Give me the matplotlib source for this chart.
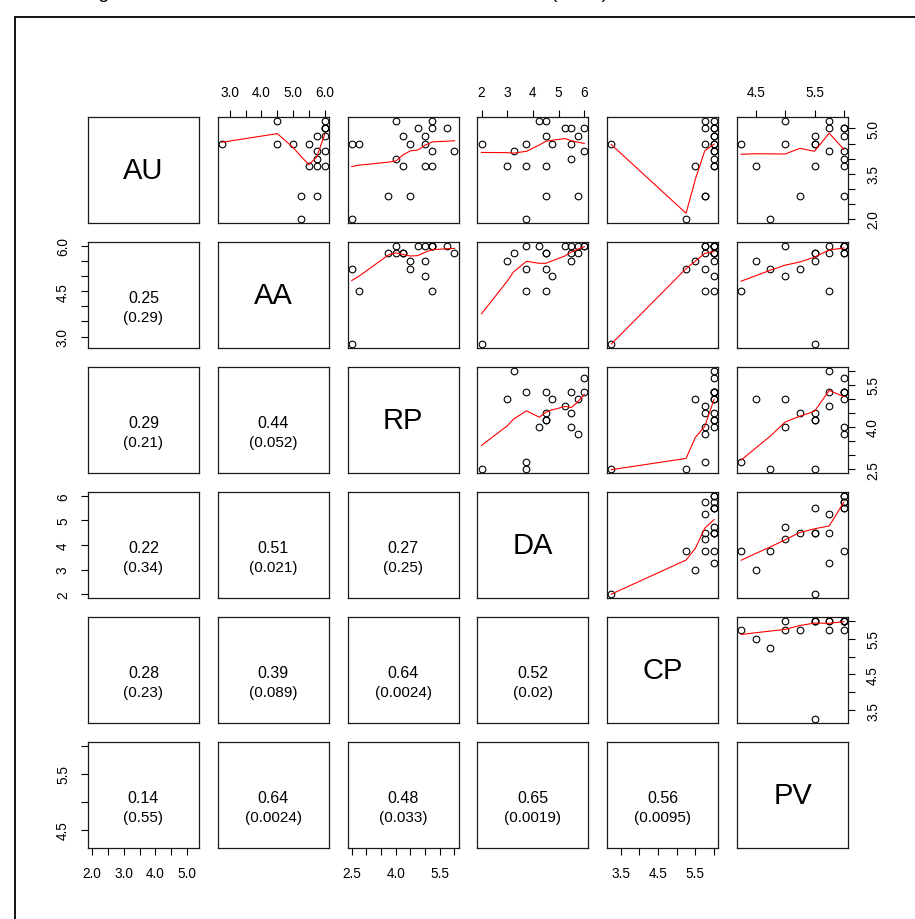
import numpy as np
import matplotlib
matplotlib.use('Agg')
import matplotlib.pyplot as plt
from matplotlib.patches import Rectangle

plt.rcParams['font.family'] = ['Liberation Sans', 'DejaVu Sans']

# ---- data (20 respondents) ----
names = ['AU', 'AA', 'RP', 'DA', 'CP', 'PV']
AU = [2.0, 4.5, 3.75, 4.5, 5.25, 4.5, 4.5, 2.75, 2.75, 4.25, 3.75, 5.25, 4.75, 4.0, 4.75, 5.0, 5.0, 5.0, 4.25, 3.75]
AA = [5.25, 2.75, 5.5, 4.5, 4.5, 5.0, 5.5, 5.25, 5.75, 5.75, 6.0, 6.0, 5.75, 5.75, 6.0, 6.0, 6.0, 6.0, 6.0, 5.75]
RP = [2.5, 2.5, 5.0, 2.75, 5.25, 5.0, 4.5, 4.5, 3.75, 6.0, 5.25, 4.0, 4.25, 4.0, 5.0, 5.75, 4.75, 5.25, 5.25, 4.25]
DA = [3.75, 2.0, 3.0, 3.75, 4.5, 4.75, 5.5, 4.5, 5.75, 3.25, 3.75, 4.25, 4.5, 5.5, 5.75, 6.0, 5.25, 5.5, 6.0, 4.5]
CP = [5.25, 3.25, 5.5, 5.75, 6.0, 6.0, 6.0, 5.75, 5.75, 6.0, 6.0, 5.75, 6.0, 6.0, 6.0, 6.0, 5.75, 6.0, 6.0, 6.0]
PV = [4.75, 5.5, 4.5, 4.25, 5.75, 5.0, 5.5, 5.25, 6.0, 5.75, 6.0, 5.0, 5.5, 6.0, 6.0, 6.0, 5.75, 6.0, 6.0, 5.5]

# lower panels: correlation and p-value, row by row
r_text = [['0.25'],
          ['0.29', '0.44'],
          ['0.22', '0.51', '0.27'],
          ['0.28', '0.39', '0.64', '0.52'],
          ['0.14', '0.64', '0.48', '0.65', '0.56']]
p_text = [['(0.29)'],
          ['(0.21)', '(0.052)'],
          ['(0.34)', '(0.021)', '(0.25)'],
          ['(0.23)', '(0.089)', '(0.0024)', '(0.02)'],
          ['(0.55)', '(0.0024)', '(0.033)', '(0.0019)', '(0.0095)']]

# axis ticks (horizontal / vertical labels differ where R dropped overlaps)
au_ticks = [2.0, 2.5, 3.0, 3.5, 4.0, 4.5, 5.0]
au_hlab = ['2.0', '', '3.0', '', '4.0', '', '5.0']
au_vlab = ['2.0', '', '', '3.5', '', '', '5.0']
aa_ticks = [3.0, 3.5, 4.0, 4.5, 5.0, 5.5, 6.0]
aa_hlab = ['3.0', '', '4.0', '', '5.0', '', '6.0']
aa_vlab = ['3.0', '', '', '4.5', '', '', '6.0']
rp_ticks = [2.5, 3.0, 3.5, 4.0, 4.5, 5.0, 5.5, 6.0]
rp_lab = ['2.5', '', '', '4.0', '', '', '5.5', '']
da_ticks = [2, 3, 4, 5, 6]
da_lab = ['2', '3', '4', '5', '6']
cp_ticks = [3.5, 4.0, 4.5, 5.0, 5.5, 6.0]
cp_lab = ['3.5', '', '4.5', '', '5.5', '']
pv_ticks = [4.5, 5.0, 5.5, 6.0]
pv_lab = ['4.5', '', '5.5', '']

data = [AU, AA, RP, DA, CP, PV]
ticks = [au_ticks, aa_ticks, rp_ticks, da_ticks, cp_ticks, pv_ticks]
hlabs = [au_hlab, aa_hlab, rp_lab, da_lab, cp_lab, pv_lab]
vlabs = [au_vlab, aa_vlab, rp_lab, da_lab, cp_lab, pv_lab]


def lowess(x, y, f=2/3., nsteps=3):
    # port of R's clowess
    o = np.argsort(x, kind='stable')
    x = np.asarray(x, float)[o]
    y = np.asarray(y, float)[o]
    n = len(x)
    delta = 0.01 * (x[-1] - x[0])
    ns = max(2, min(n, int(f * n + 1e-7)))
    ys = np.zeros(n)
    rw = np.ones(n)
    rng = x[-1] - x[0]

    def lowest(xs, nleft, nright, userw):
        h = max(xs - x[nleft], x[nright] - xs)
        h9, h1 = 0.999 * h, 0.001 * h
        w = np.zeros(n)
        a = 0.
        j = nleft
        while j < n:
            r = abs(x[j] - xs)
            if r <= h9:
                w[j] = 1. if r <= h1 else (1 - (r / h) ** 3) ** 3
                if userw:
                    w[j] *= rw[j]
                a += w[j]
            elif x[j] > xs:
                break
            j += 1
        nrt = j - 1
        if a <= 0:
            return None
        idx = slice(nleft, nrt + 1)
        w[idx] /= a
        if h > 0:
            a = np.sum(w[idx] * x[idx])
            b = xs - a
            c = np.sum(w[idx] * (x[idx] - a) ** 2)
            if np.sqrt(c) > 0.001 * rng:
                b /= c
                w[idx] *= (b * (x[idx] - a) + 1.)
        return np.sum(w[idx] * y[idx])

    for it in range(nsteps + 1):
        nleft, nright, last, i = 0, ns - 1, -1, 0
        while True:
            if nright < n - 1:
                d1 = x[i] - x[nleft]
                d2 = x[nright + 1] - x[i]
                if d1 > d2:
                    nleft += 1
                    nright += 1
                    continue
            v = lowest(x[i], nleft, nright, it > 0)
            ys[i] = y[i] if v is None else v
            if last < i - 1:
                denom = x[i] - x[last]
                for j in range(last + 1, i):
                    alpha = (x[j] - x[last]) / denom
                    ys[j] = alpha * ys[i] + (1 - alpha) * ys[last]
            last = i
            cut = x[last] + delta
            i = last + 1
            while i < n:
                if x[i] > cut:
                    break
                if x[i] == x[last]:
                    ys[i] = ys[last]
                    last = i
                i += 1
            i = max(last + 1, i - 1)
            if last >= n - 1:
                break
        res = y - ys
        sc = np.sum(np.abs(res)) / n
        if it >= nsteps:
            break
        ar = np.sort(np.abs(res))
        m1 = n // 2
        if n % 2 == 0:
            cmad = 3. * (ar[m1] + ar[n - m1 - 1])
        else:
            cmad = 6. * ar[m1]
        if cmad < 1e-7 * sc:
            break
        r = np.abs(res)
        rw = np.where(r <= 0.001 * cmad, 1.,
                      np.where(r <= 0.999 * cmad, (1 - (r / cmad) ** 2) ** 2, 0.))
    return x, ys


W, H = 915, 920
fig = plt.figure(figsize=(W / 100, H / 100), dpi=100)

left, top = 88, 118
pw, ph = 111, 106
gx, gy = 18.8, 19

lims = []
for v in data:
    lo, hi = min(v), max(v)
    pad = 0.04 * (hi - lo)
    lims.append((lo - pad, hi + pad))

for i in range(6):
    for j in range(6):
        x0 = left + j * (pw + gx)
        y0 = top + i * (ph + gy)
        ax = fig.add_axes([x0 / W, 1 - (y0 + ph) / H, pw / W, ph / H])
        ax.set_xlim(lims[j])
        ax.set_ylim(lims[i])
        ax.set_xticks([])
        ax.set_yticks([])
        for s in ax.spines.values():
            s.set_linewidth(0.9)
            s.set_color('#1a1a1a')

        if i == j:
            ax.text(0.5, 0.5, names[i], transform=ax.transAxes,
                    ha='center', va='center', fontsize=21)
        elif i < j:
            ax.plot(data[j], data[i], 'o', mfc='none', mec='black', ms=4.8, mew=0.8)
            lx, ly = lowess(data[j], data[i])
            ax.plot(lx, ly, color='red', lw=0.8)
        else:
            ax.text(0.5, 0.48, r_text[i - 1][j], transform=ax.transAxes,
                    ha='center', va='center', fontsize=11.5)
            ax.text(0.5, 0.295, p_text[i - 1][j], transform=ax.transAxes,
                    ha='center', va='center', fontsize=11)

        tp = dict(direction='out', length=5, width=0.8, labelsize=9.8, pad=8)
        if i == 0 and j % 2 == 1:
            ax.xaxis.set_ticks_position('top')
            ax.set_xticks(ticks[j])
            ax.set_xticklabels(hlabs[j])
            ax.tick_params(axis='x', **tp)
        if i == 5 and j % 2 == 0:
            ax.xaxis.set_ticks_position('bottom')
            ax.set_xticks(ticks[j])
            ax.set_xticklabels(hlabs[j])
            ax.tick_params(axis='x', **tp)
        if j == 5 and i % 2 == 0:
            ax.yaxis.set_ticks_position('right')
            ax.set_yticks(ticks[i])
            ax.set_yticklabels(vlabs[i], rotation=90, va='center')
            ax.tick_params(axis='y', **tp)
        if j == 0 and i % 2 == 1:
            ax.yaxis.set_ticks_position('left')
            ax.set_yticks(ticks[i])
            ax.set_yticklabels(vlabs[i], rotation=90, va='center')
            ax.tick_params(axis='y', **tp)

# outer frame of the page and the clipped caption above it
fig.add_artist(Rectangle((15 / W, -0.05), 2, 1 - 18 / H + 0.05,
                         transform=fig.transFigure, fill=False, lw=1.3, ec='black'))
fig.text(82 / W, 1 + 2 / H, 'Figure 5.1  Associations between the six scale scores (n=20)',
         fontsize=14, va='baseline', ha='left')

fig.savefig('out.png', dpi=100)
